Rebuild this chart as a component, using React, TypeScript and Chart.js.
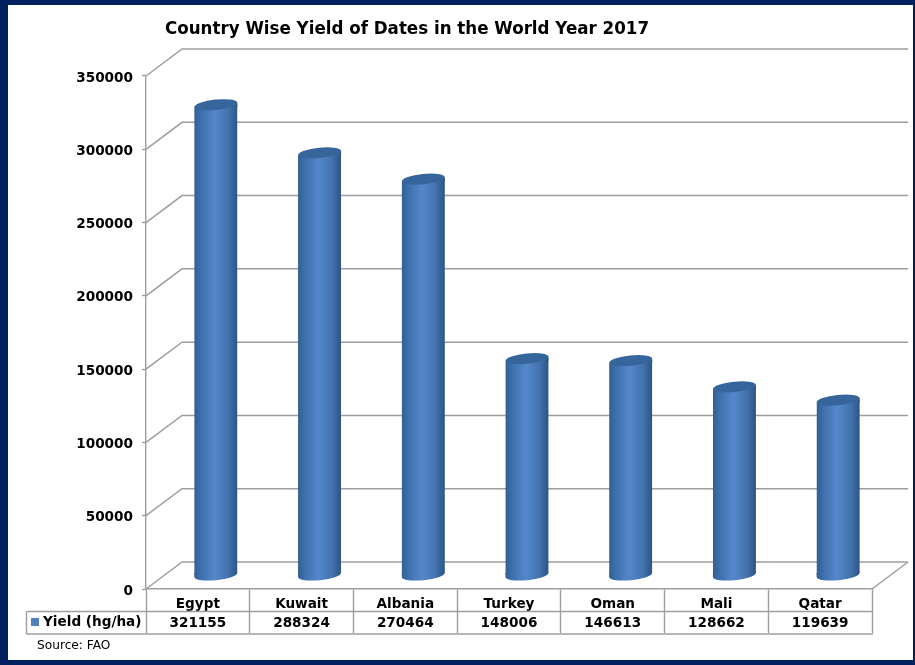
import React, { useEffect, useRef } from "react";
import { Chart, registerables } from "chart.js";

Chart.register(...registerables);

const titleText = "Country Wise Yield of Dates in the World Year 2017";
const sourceText = "Source: FAO";
const seriesName = "Yield (hg/ha)";
const countries = ["Egypt", "Kuwait", "Albania", "Turkey", "Oman", "Mali", "Qatar"];
const yieldValues = [321155, 288324, 270464, 148006, 146613, 128662, 119639];

const NAVY = "#002060";
const LINE = "#9E9E9E";
const FAMILY = "'DejaVu Sans', sans-serif";
const BOLD = `bold 13.6px ${FAMILY}`;
const DX = 36;
const DY = 27;
const MIDX = 18;
const MIDY = 13.5;
const RX = 21.5;
const RY = 5.2;
const TILT = -0.1;
const SLOPE = 2.1;

function sideGradient(c: CanvasRenderingContext2D, x: number) {
  const g = c.createLinearGradient(x - RX, 0, x + RX, 0);
  g.addColorStop(0, "#315F95");
  g.addColorStop(0.15, "#3E6FAB");
  g.addColorStop(0.47, "#5488CC");
  g.addColorStop(0.78, "#4473AE");
  g.addColorStop(1, "#2C5587");
  return g;
}

const cylinderWalls = {
  id: "cylinderWalls",
  beforeDatasetsDraw(chart: any) {
    const c: CanvasRenderingContext2D = chart.ctx;
    const { y: ys } = chart.scales;
    const { left, right, bottom } = chart.chartArea;
    c.save();
    c.strokeStyle = LINE;
    c.lineWidth = 1.5;
    ys.ticks.forEach((t: any) => {
      const y = ys.getPixelForValue(t.value);
      c.beginPath();
      c.moveTo(left, y);
      c.lineTo(left + DX, y - DY);
      c.lineTo(right + DX, y - DY);
      c.stroke();
    });
    c.beginPath();
    c.moveTo(right, bottom);
    c.lineTo(right + DX, bottom - DY);
    c.stroke();
    c.restore();

    c.save();
    c.translate(MIDX, -MIDY);
    const bars = chart.getDatasetMeta(0).data;
    bars.forEach((bar: any) => {
      c.fillStyle = sideGradient(c, bar.x);
      c.beginPath();
      c.ellipse(bar.x, bar.base, RX, RY, TILT, 0, Math.PI * 2);
      c.fill();
      // bands that close the gap between the flat bar ends and the tilted caps
      c.beginPath();
      c.moveTo(bar.x - RX, bar.y + SLOPE);
      c.lineTo(bar.x + RX, bar.y - SLOPE);
      c.lineTo(bar.x + RX, bar.y + SLOPE);
      c.closePath();
      c.moveTo(bar.x - RX, bar.base - SLOPE);
      c.lineTo(bar.x + RX, bar.base - SLOPE);
      c.lineTo(bar.x - RX, bar.base + SLOPE);
      c.closePath();
      c.fill();
    });
    c.save();
    c.beginPath();
    bars.forEach((bar: any) => {
      c.moveTo(bar.x - RX, bar.y + SLOPE);
      c.lineTo(bar.x + RX, bar.y - SLOPE);
      c.lineTo(bar.x + RX, bar.base - SLOPE);
      c.lineTo(bar.x - RX, bar.base + SLOPE);
      c.closePath();
    });
    c.clip();
  },
  afterDatasetsDraw(chart: any) {
    const c: CanvasRenderingContext2D = chart.ctx;
    c.restore();
    chart.getDatasetMeta(0).data.forEach((bar: any) => {
      c.beginPath();
      c.ellipse(bar.x, bar.y, RX, RY, TILT, 0, Math.PI * 2);
      c.fillStyle = "#36659B";
      c.fill();
    });
    c.restore();
  },
};

const frameAndTable = {
  id: "frameAndTable",
  beforeDraw(chart: any) {
    const c: CanvasRenderingContext2D = chart.ctx;
    c.save();
    c.fillStyle = NAVY;
    c.fillRect(0, 0, chart.width, chart.height);
    c.fillStyle = "#FFFFFF";
    c.fillRect(8, 5, chart.width - 10, chart.height - 10);
    c.restore();
  },
  afterLayout(chart: any) {
    if (chart.titleBlock) {
      chart.titleBlock.left = 165;
      chart.titleBlock.right = 649;
    }
  },
  afterUpdate(chart: any) {
    chart.scales.y.getLabelItems().forEach((item: any) => {
      item.textOffset += 2;
    });
  },
  afterDraw(chart: any) {
    const c: CanvasRenderingContext2D = chart.ctx;
    const { right } = chart.chartArea;
    c.save();
    c.strokeStyle = LINE;
    c.lineWidth = 1.4;
    c.beginPath();
    c.moveTo(26.5, 611.5);
    c.lineTo(right + 1, 611.5);
    c.moveTo(26.5, 634);
    c.lineTo(right + 1, 634);
    c.moveTo(26.5, 611.5);
    c.lineTo(26.5, 634);
    c.stroke();
    c.fillStyle = "#4F81BD";
    c.fillRect(31, 618, 8, 8);
    c.fillStyle = "#000000";
    c.font = BOLD;
    c.textAlign = "left";
    c.textBaseline = "middle";
    c.fillText(chart.data.datasets[0].label, 43, 622.5);
    c.font = `12.2px ${FAMILY}`;
    c.fillText(sourceText, 37, 645.5);
    c.restore();
  },
};

export default function App() {
  const ref = useRef<HTMLCanvasElement>(null);
  useEffect(() => {
    const chart = new Chart(ref.current as HTMLCanvasElement, {
      type: "bar",
      data: {
        labels: countries.map((name, i) => [name, String(yieldValues[i])]),
        datasets: [
          {
            label: seriesName,
            data: yieldValues,
            barThickness: 43,
            clip: false,
            backgroundColor: (ctx: any) => {
              const xs = ctx.chart.scales.x;
              const px = xs && ctx.dataIndex !== undefined ? xs.getPixelForValue(ctx.dataIndex) : NaN;
              if (!Number.isFinite(px)) return "#4F81BD";
              return sideGradient(ctx.chart.ctx, px);
            },
          } as any,
        ],
      },
      options: {
        responsive: false,
        animation: false,
        devicePixelRatio: 1,
        layout: { padding: { left: 0, right: 43, top: 0, bottom: 0 } },
        plugins: {
          legend: { display: false },
          tooltip: { enabled: false },
          title: {
            display: true,
            text: titleText,
            color: "#000000",
            font: { family: FAMILY, size: 18, weight: "bold", lineHeight: 1.3333 },
            padding: { top: 17, bottom: 35 },
          },
        },
        scales: {
          x: {
            afterFit: (s: any) => {
              s.height = 76;
            },
            border: { display: true, color: LINE, width: 1.4 },
            grid: { display: true, drawOnChartArea: false, drawTicks: true, tickLength: 44, tickColor: LINE, tickWidth: 1.4 },
            ticks: {
              autoSkip: false,
              maxRotation: 0,
              minRotation: 0,
              padding: -38,
              color: "#000000",
              font: { family: FAMILY, size: 13.6, weight: "bold", lineHeight: 1.4 },
            },
          },
          y: {
            min: 0,
            max: 350000,
            afterFit: (s: any) => {
              s.width = 146;
            },
            border: { display: true, color: LINE, width: 1.4 },
            grid: { display: true, drawOnChartArea: false, drawTicks: true, tickLength: 4, tickColor: LINE, tickWidth: 1.4 },
            ticks: {
              stepSize: 50000,
              padding: 9,
              color: "#000000",
              callback: (v: any) => String(v),
              font: { family: FAMILY, size: 13.6, weight: "bold" },
            },
          },
        },
      },
      plugins: [frameAndTable, cylinderWalls],
    } as any);
    return () => chart.destroy();
  }, []);
  return (
    <div style={{ position: "absolute", left: 0, top: 0, width: 915, height: 665 }}>
      <canvas ref={ref} width={915} height={665} style={{ display: "block" }} />
    </div>
  );
}
